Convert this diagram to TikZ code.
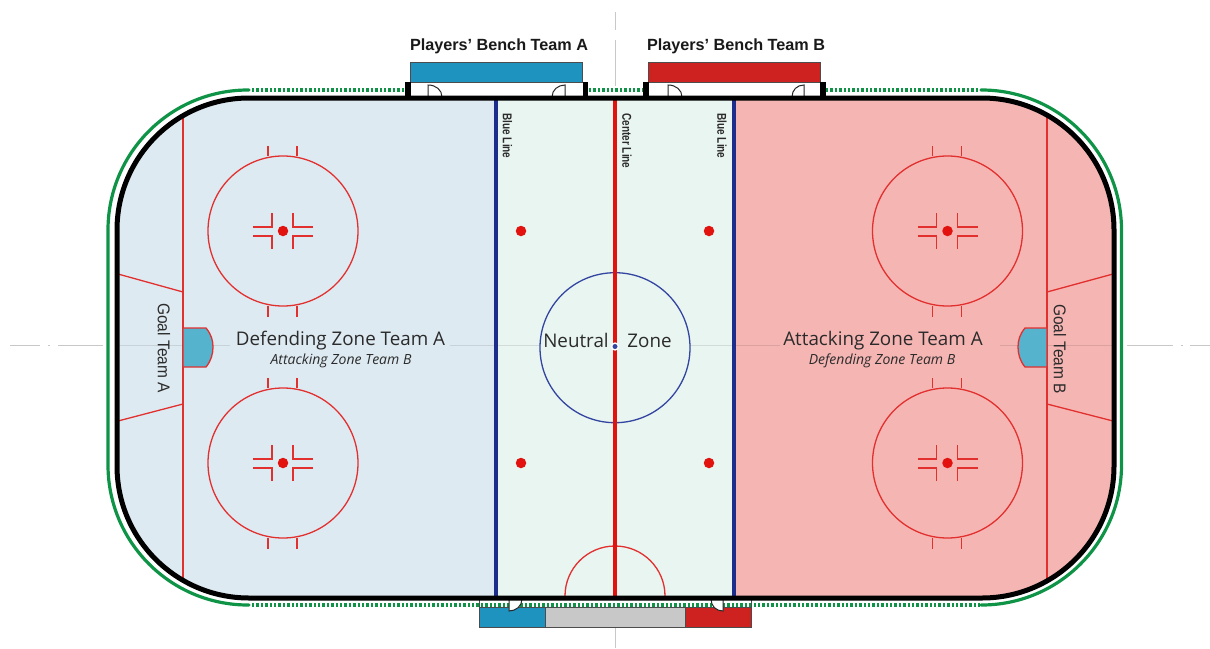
\documentclass[tikz,border=0pt]{standalone}
\usepackage{fontspec}
\usepackage{graphicx}
\setmainfont{Open Sans}
\newfontfamily\benchfont{Liberation Sans}
\definecolor{zoneA}{HTML}{DEEAF2}
\definecolor{zoneN}{HTML}{E9F5F1}
\definecolor{zoneB}{HTML}{F5B5B3}
\definecolor{rinkred}{HTML}{E2302F}
\definecolor{linered}{HTML}{E2130F}
\definecolor{lineblue}{HTML}{1D2D8C}
\definecolor{circblue}{HTML}{3345A0}
\definecolor{boardgreen}{HTML}{0F9447}
\definecolor{creaseblue}{HTML}{55B3CD}
\definecolor{benchblue}{HTML}{1F93C0}
\definecolor{benchred}{HTML}{CE2220}
\definecolor{guide}{HTML}{C8C8C8}
\definecolor{txt}{HTML}{2B2B2B}
\tikzset{
  markline/.style={draw=rinkred,line width=1.3pt},
  solidboard/.style={draw=boardgreen,line width=3.2pt},
  dotboard/.style={draw=boardgreen,line width=3.4pt,dash pattern=on 2.4pt off 2pt},
  guideline/.style={draw=guide,line width=1pt},
  faintline/.style={draw=black,opacity=0.1,line width=0.8pt},
  benchbox/.style={draw=black!70,line width=1pt},
  post/.style={fill=black,draw=none},
  doorshape/.style={draw=black!85,line width=1pt,fill=white},
  spot/.style={circle,fill=linered,draw=none,minimum size=10.5pt,inner sep=0pt},
  zonemain/.style={text=txt,font=\fontsize{18.8}{22}\selectfont,inner sep=0pt},
  zonesub/.style={text=txt,font=\fontsize{14}{16}\itshape\selectfont,inner sep=0pt},
  benchlabel/.style={text=black!90,font=\benchfont\bfseries\fontsize{16.2}{18}\selectfont,inner sep=0pt},
  goallabel/.style={text=txt,rotate=-90,font=\benchfont\fontsize{17}{19}\selectfont,inner sep=0pt},
  linelabel/.style={text=txt,rotate=-90,font=\benchfont\bfseries\fontsize{12.8}{14}\selectfont,inner sep=0pt},
}
\newcommand{\faceoff}[2]{%
  \begin{scope}[shift={(#1,#2)}]
    \draw[markline] (0,0) circle[radius=75];
    \draw[markline] (-15,-75) -- (-15,-85.5) (14,-75) -- (14,-85.5);
    \draw[markline] (-15,75) -- (-15,85.5) (14,75) -- (14,85.5);
    \draw[markline] (-30,-4) -- (-11,-4) -- (-11,-18);
    \draw[markline] (30,-4) -- (10,-4) -- (10,-18);
    \draw[markline] (-30,5) -- (-11,5) -- (-11,18);
    \draw[markline] (30,5) -- (10,5) -- (10,18);
    \node[spot] at (0,0) {};
  \end{scope}}
\begin{document}
\begin{tikzpicture}[x=1pt,y=-1pt]
\useasboundingbox (0,0) rectangle (1210,648);
% guide lines
\draw[guideline] (615,12) -- (615,30) (615,40) -- (615,86);
\draw[guideline] (615,627) -- (615,648);
\draw[guideline] (10,345.5) -- (40,345.5) (48,345.5) -- (50,345.5) (58,345.5) -- (103,345.5);
\draw[guideline] (1127,345.5) -- (1173,345.5) (1181,345.5) -- (1183,345.5) (1190,345.5) -- (1210,345.5);
% zones
\begin{scope}
  \clip[rounded corners=132pt] (117,98) rectangle (1114,598);
  \fill[zoneA] (117,98) rectangle (496,598);
  \fill[zoneN] (496,98) rectangle (734,598);
  \fill[zoneB] (734,98) rectangle (1114,598);
\end{scope}
\draw[faintline] (118,345.5) -- (230,345.5) (450,345.5) -- (540,345.5) (690,345.5) -- (780,345.5) (1000,345.5) -- (1112,345.5);
% goal lines and trapezoids
\draw[markline] (183,115) -- (183,581);
\draw[markline] (1047,115) -- (1047,581);
\draw[markline] (118,274) -- (183,292) (118,421) -- (183,404);
\draw[markline] (1113,274) -- (1047,292) (1113,421) -- (1047,404);
% creases
\draw[markline,fill=creaseblue] (183,328) -- (206,328) .. controls (211,334) and (213,340) .. (213,347) .. controls (213,354) and (211,361) .. (206,367) -- (183,367) -- cycle;
\draw[markline,fill=creaseblue] (1047,328) -- (1025,328) .. controls (1020,334) and (1018,340) .. (1018,347) .. controls (1018,354) and (1020,361) .. (1025,367) -- (1047,367) -- cycle;
% faceoff circles
\faceoff{283}{231}
\faceoff{283}{463}
\faceoff{947.5}{231}
\faceoff{947.5}{463}
% neutral zone dots
\node[spot] (d1) at (521,231) {};
\node[spot] (d2) at (709,231) {};
\node[spot] (d3) at (521,463) {};
\node[spot] (d4) at (709,463) {};
% centre circle and referee crease
\draw[draw=circblue,line width=1.3pt] (615,347.7) circle[radius=75];
\draw[markline] (565,596) arc[start angle=180,end angle=360,radius=50];
\draw[draw=lineblue,line width=3.4pt] (496,98) -- (496,598);
\draw[draw=lineblue,line width=3.4pt] (734,98) -- (734,598);
\draw[draw=linered,line width=3.4pt] (615,98) -- (615,598);
\fill[white] (615,346.5) circle[radius=4.2];
\fill[circblue] (615,346.5) circle[radius=2.5];
% boards: green
\draw[solidboard,line cap=round,rounded corners=140pt] (249,90) -- (108,90) -- (108,605) -- (249,605);
\draw[solidboard,line cap=round,rounded corners=140pt] (981,90) -- (1121.5,90) -- (1121.5,605) -- (981,605);
\draw[dotboard] (252,90) -- (405,90) (589,90) -- (643,90) (826,90) -- (980,90);
% bottom penalty boxes
\fill[white] (479,598) rectangle (751,607);
\draw[dotboard] (252,605) -- (980,605);
\draw[draw=black!70,line width=0.8pt] (479,598) -- (479,607) (751,598) -- (751,607);
\draw[benchbox,fill=benchblue] (479,607) rectangle (545,627);
\draw[benchbox,fill=guide] (545,607) rectangle (685,627);
\draw[benchbox,fill=benchred] (685,607) rectangle (751,627);
\draw[doorshape] (509,599) -- (509,611) .. controls (516,611) and (522,606) .. (522,599);
\draw[doorshape] (723,599) -- (723,611) .. controls (716,611) and (711,606) .. (711,599);
% top benches
\fill[white] (405,82) rectangle (588,97);
\fill[white] (643,82) rectangle (825,97);
\draw[benchbox,fill=benchblue] (410.5,62) rectangle (582,82);
\draw[benchbox,fill=benchred] (648,62) rectangle (820,82);
\draw[doorshape,fill=none] (428,97) -- (428,85) .. controls (436,85) and (442,90) .. (442,97);
\draw[doorshape,fill=none] (565,97) -- (565,85) .. controls (558,85) and (552,90) .. (552,97);
\draw[doorshape,fill=none] (668,97) -- (668,85) .. controls (676,85) and (682,90) .. (682,97);
\draw[doorshape,fill=none] (804,97) -- (804,85) .. controls (797,85) and (792,90) .. (792,97);
\fill[post] (405,82) rectangle (410.5,98);
\fill[post] (582.5,82) rectangle (588,98);
\fill[post] (643,82) rectangle (648.5,98);
\fill[post] (820,82) rectangle (825.5,98);
% rink outline
\draw[draw=black,line width=5pt,rounded corners=132pt] (117,98) rectangle (1114,598);
% labels
\node[benchlabel] (benchA) at (499,46.3) {Players’ Bench Team A};
\node[benchlabel] (benchB) at (736,46.3) {Players’ Bench Team B};
\node[zonemain] (defA) at (340.5,340.5) {Defending Zone Team A};
\node[zonesub] (attB) at (341,360.5) {Attacking Zone Team B};
\node[zonemain] (attA) at (883,340.5) {Attacking Zone Team A};
\node[zonesub] (defB) at (882,360.5) {Defending Zone Team B};
\node[zonemain] (neut) at (576,340.5) {Neutral};
\node[zonemain] (zone) at (649.5,340.5) {Zone};
\node[goallabel] (goalA) at (164,348) {\scalebox{0.91}[1]{Goal Team A}};
\node[goallabel] (goalB) at (1060,349) {\scalebox{0.91}[1]{Goal Team B}};
\node[linelabel] (bl1) at (507.5,136) {\scalebox{0.78}[1]{Blue Line}};
\node[linelabel] (cl) at (627,141) {\scalebox{0.78}[1]{Center Line}};
\node[linelabel] (bl2) at (722,136) {\scalebox{0.78}[1]{Blue Line}};
\end{tikzpicture}
\end{document}
